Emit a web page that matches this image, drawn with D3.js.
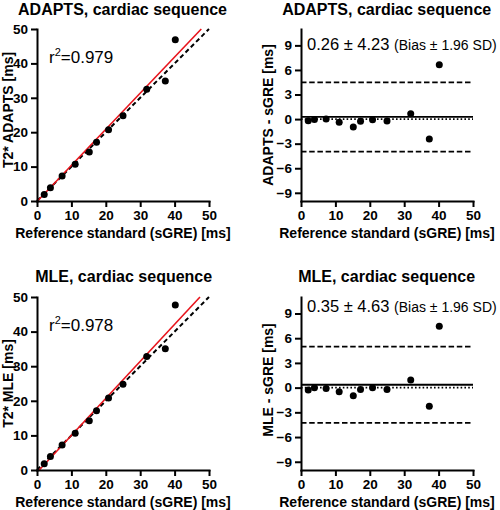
<!DOCTYPE html>
<html><head><meta charset="utf-8">
<script src="https://cdn.jsdelivr.net/npm/d3@7"></script>
<style>
body{margin:0;background:#fff;}
text{font-family:"Liberation Sans",Arial,sans-serif;}
</style></head>
<body><svg id="c" width="500" height="510"></svg>
<script>
// ---- data ----
const refX = [2.1, 3.9, 7.3, 11.1, 15.2, 17.3, 20.8, 25.0, 31.9, 37.3, 40.2];
const adaptsY = [1.9, 3.85, 7.3, 10.7, 14.25, 17.05, 20.7, 24.8, 32.5, 34.9, 46.9];
const mleY = [1.8, 3.9, 7.2, 10.6, 14.2, 17.1, 20.8, 24.8, 32.8, 35.05, 47.7];
const adaptsDiff = [-0.2, -0.05, 0.0, -0.4, -0.95, -0.25, -0.08, -0.24, 0.64, -2.43, 6.65];
const mleDiff = [-0.3, -0.02, -0.1, -0.5, -1.0, -0.22, -0.02, -0.22, 0.91, -2.25, 7.46];
const xTicks = [0, 10, 20, 30, 40, 50];
const yTicksScatter = [0, 10, 20, 30, 40, 50];
const yTicksBA = [-9, -6, -3, 0, 3, 6, 9];
const regADAPTS = {slope: 1.05, intercept: -0.15, r2: "0.979"};
const regMLE = {slope: 1.07, intercept: -0.7, r2: "0.978"};
const baADAPTS = {bias: 0.26, loa: 4.23};
const baMLE = {bias: 0.35, loa: 4.63};
const titles = ["ADAPTS, cardiac sequence", "ADAPTS, cardiac sequence", "MLE, cardiac sequence", "MLE, cardiac sequence"];
const yLabels = ["T2* ADAPTS [ms]", "ADAPTS - sGRE [ms]", "T2* MLE [ms]", "MLE - sGRE [ms]"];
const xLabel = "Reference standard (sGRE) [ms]";

const svg = d3.select("#c");
const FONT = '"Liberation Sans",Arial,sans-serif';

function styleAxis(g){
  g.select(".domain").attr("stroke","#000").attr("stroke-width",2).attr("stroke-linecap","square");
  g.selectAll(".tick line").attr("stroke","#000").attr("stroke-width",2);
  g.selectAll(".tick text").attr("font-family",FONT).attr("font-size",13.5).attr("font-weight","bold").attr("fill","#000");
}

function panel(opt){
  const {x0,x1,yTop,yBot,title,titleX,titleY,ylab,ylabX,ylabY,type} = opt;
  const g = svg.append("g");
  const x = d3.scaleLinear().domain([0,50]).range([x0,x1]);
  const y = type==="scatter" ? d3.scaleLinear().domain([0,50]).range([yBot,yTop])
                             : d3.scaleLinear().domain([-10,11]).range([yBot,yTop]);
  // title
  g.append("text").attr("x",titleX).attr("y",titleY).attr("text-anchor","middle")
    .attr("font-size",16).attr("font-weight","bold").text(title);
  // x label
  g.append("text").attr("x",(x0+x1)/2).attr("y",yBot+37).attr("text-anchor","middle")
    .attr("font-size",14).attr("font-weight","bold").text(xLabel);
  // y label
  g.append("text").attr("transform",`translate(${ylabX},${ylabY}) rotate(-90)`).attr("text-anchor","middle")
    .attr("font-size",14).attr("font-weight","bold").text(ylab);

  if(type==="scatter"){
    const reg = opt.reg;
    g.append("line").attr("x1",x(0)).attr("y1",y(0)).attr("x2",x(50)).attr("y2",y(50))
      .attr("stroke","#000").attr("stroke-width",2).attr("stroke-dasharray","4.5,3");
    const xs = Math.max(0,(0-reg.intercept)/reg.slope), xe = Math.min(50,(50-reg.intercept)/reg.slope);
    g.append("line").attr("x1",x(xs)).attr("y1",y(reg.slope*xs+reg.intercept))
      .attr("x2",x(xe)).attr("y2",y(reg.slope*xe+reg.intercept))
      .attr("stroke","#e8141c").attr("stroke-width",1.6);
    g.selectAll("circle.p").data(refX.map((v,i)=>[v,opt.ys[i]])).join("circle")
      .attr("cx",d=>x(d[0])).attr("cy",d=>y(d[1])).attr("r",3.5).attr("fill","#000");
    const t = g.append("text").attr("x",opt.annX).attr("y",opt.annY).attr("font-size",17);
    t.append("tspan").text("r");
    t.append("tspan").attr("font-size",11).attr("dy",-7).text("2");
    t.append("tspan").attr("dy",7).text("=" + reg.r2);
    const ax = g.append("g").attr("transform",`translate(0,${yBot})`)
      .call(d3.axisBottom(x).tickValues(xTicks).tickSize(6).tickSizeOuter(0).tickPadding(3));
    styleAxis(ax);
    const ay = g.append("g").attr("transform",`translate(${x0},0)`)
      .call(d3.axisLeft(y).tickValues(yTicksScatter).tickSize(6).tickSizeOuter(0).tickPadding(3));
    styleAxis(ay);
  } else {
    const ba = opt.ba;
    g.append("line").attr("x1",x(0)).attr("x2",x(50)).attr("y1",y(0)).attr("y2",y(0))
      .attr("stroke","#000").attr("stroke-width",1.8).attr("stroke-dasharray","1.6,2.2");
    g.append("line").attr("x1",x(0)).attr("x2",x(50)).attr("y1",y(ba.bias)).attr("y2",y(ba.bias))
      .attr("stroke","#000").attr("stroke-width",1.8);
    [ba.bias+ba.loa, ba.bias-ba.loa].forEach(v=>{
      g.append("line").attr("x1",x(0)).attr("x2",x(50)).attr("y1",y(v)).attr("y2",y(v))
        .attr("stroke","#000").attr("stroke-width",1.8).attr("stroke-dasharray","5.5,2.7");
    });
    g.selectAll("circle.p").data(refX.map((v,i)=>[v,opt.ds[i]])).join("circle")
      .attr("cx",d=>x(d[0])).attr("cy",d=>y(d[1])).attr("r",3.5).attr("fill","#000");
    const t = g.append("text").attr("x",opt.annX).attr("y",opt.annY);
    t.append("tspan").attr("font-size",16.5).text(ba.bias.toFixed(2)+" \u00B1 "+ba.loa.toFixed(2)+" ");
    t.append("tspan").attr("font-size",14).text("(Bias \u00B1 1.96 SD)");
    const ax = g.append("g").attr("transform",`translate(0,${yBot})`)
      .call(d3.axisBottom(x).tickValues(xTicks).tickSize(6).tickSizeOuter(0).tickPadding(3));
    styleAxis(ax);
    const ay = g.append("g").attr("transform",`translate(${x0},0)`)
      .call(d3.axisLeft(y).tickValues(yTicksBA).tickSize(6).tickSizeOuter(0).tickPadding(3));
    styleAxis(ay);
  }
}

panel({type:"scatter",x0:37,x1:209,yTop:29,yBot:201,title:titles[0],titleX:122.5,titleY:15,
  ylab:yLabels[0],ylabX:13,ylabY:110,reg:regADAPTS,ys:adaptsY,annX:49,annY:63});
panel({type:"ba",x0:301,x1:473,yTop:29,yBot:201,title:titles[1],titleX:386.7,titleY:15,
  ylab:yLabels[1],ylabX:272.5,ylabY:115,ba:baADAPTS,ds:adaptsDiff,annX:307,annY:50});
panel({type:"scatter",x0:37,x1:209,yTop:297,yBot:470,title:titles[2],titleX:123.7,titleY:282,
  ylab:yLabels[2],ylabX:13,ylabY:383.5,reg:regMLE,ys:mleY,annX:49,annY:331});
panel({type:"ba",x0:301,x1:473,yTop:297,yBot:470,title:titles[3],titleX:386.7,titleY:282,
  ylab:yLabels[3],ylabX:272.5,ylabY:380,ba:baMLE,ds:mleDiff,annX:307,annY:312});
</script></body></html>
